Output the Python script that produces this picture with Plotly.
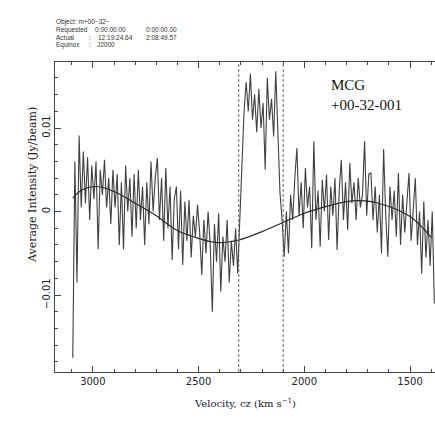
import numpy as np
import plotly.graph_objects as go

# Channel velocities (km/s), 10 km/s channels
velocity = np.arange(3095, 1384, -10)

# Average intensity (Jy/beam)
intensity = [
    # 3095 - 3005
    -0.0175, 0.0060, -0.0085, 0.0091, 0.0005, 0.0072, 0.0010, 0.0065, -0.0010, 0.0055,
    # 2995 - 2905
    0.0015, 0.0060, -0.0045, 0.0050, 0.0020, 0.0062, 0.0005, 0.0040, -0.0015, 0.0050,
    # 2895 - 2805
    0.0005, 0.0045, -0.0040, 0.0035, -0.0045, 0.0055, 0.0000, 0.0040, -0.0030, 0.0045,
    # 2795 - 2705
    -0.0020, 0.0050, -0.0010, 0.0030, -0.0040, 0.0035, -0.0015, 0.0060, 0.0000, 0.0040,
    # 2695 - 2605
    0.0064, -0.0010, 0.0040, -0.0035, 0.0052, -0.0020, 0.0030, -0.0058, 0.0015, 0.0030,
    # 2595 - 2505
    -0.0045, 0.0025, -0.0064, 0.0012, -0.0035, 0.0014, -0.0055, -0.0005, -0.0030, 0.0008,
    # 2495 - 2405
    -0.0025, -0.0076, -0.0010, -0.0050, 0.0000, -0.0040, -0.0120, -0.0015, -0.0060, -0.0002,
    # 2395 - 2315
    -0.0096, -0.0030, -0.0060, -0.0010, -0.0085, -0.0035, -0.0065, -0.0020, -0.0074,
    # 2305 - 2095 (line)
    -0.0010, 0.0060, 0.0120, 0.0155, 0.0120, 0.0165, 0.0110, 0.0140, 0.0095, 0.0147, 0.0100,
    0.0130, 0.0050, 0.0160, 0.0110, 0.0135, 0.0090, 0.0168, 0.0080, 0.0022, -0.0010, -0.0054,
    # 2085 - 1995
    0.0000, -0.0050, 0.0020, -0.0010, 0.0040, 0.0076, -0.0005, 0.0035, -0.0020, 0.0052,
    # 1985 - 1895
    0.0005, 0.0030, -0.0044, 0.0084, -0.0010, 0.0025, -0.0042, 0.0038, 0.0000, 0.0044,
    # 1885 - 1795
    -0.0034, 0.0030, -0.0005, 0.0040, -0.0046, 0.0025, 0.0062, -0.0010, 0.0035, -0.0022,
    # 1785 - 1695
    0.0058, 0.0010, 0.0035, -0.0010, 0.0040, 0.0005, 0.0020, 0.0084, -0.0005, 0.0045,
    # 1685 - 1595
    0.0046, -0.0010, 0.0030, -0.0025, 0.0020, -0.0050, 0.0075, -0.0005, -0.0054, 0.0030,
    # 1585 - 1495
    -0.0010, 0.0025, -0.0030, 0.0046, -0.0040, 0.0020, -0.0025, 0.0015, 0.0046, -0.0035,
    # 1485 - 1385
    0.0010, 0.0040, -0.0040, 0.0000, -0.0074, 0.0012, -0.0055, -0.0010, -0.0065, 0.0000, -0.0110,
]

# Baseline fit (smooth curve)
fit_velocity = [3095, 3050, 2980, 2900, 2800, 2700, 2605, 2500, 2415, 2310,
                2200, 2100, 2000, 1900, 1800, 1740, 1650, 1500, 1400]
fit_intensity = [0.0016, 0.0026, 0.0030, 0.0024, 0.0010, -0.0005, -0.0022, -0.0032, -0.0037, -0.0034,
                 -0.0024, -0.0013, -0.0002, 0.0006, 0.0012, 0.0013, 0.0010, -0.0006, -0.0031]

# Line window (km/s)
window = [2310, 2100]

x_ticks = [3000, 2500, 2000, 1500]
y_ticks = [-0.01, 0, 0.01]
y_tick_text = ["\u22120.01", "0", "0.01"]

# Header text: (y pixel, [(x pixel, text), ...])
header_rows = [
    (22.5, [(55, "Object: m+00\u221232\u2212")]),
    (30, [(55, "Requested"), (94, "0:00:00.00"), (145, "0:00:00.00")]),
    (37.5, [(55, "Actual"), (88, ":"), (97, "12:19:24.64"), (145, "2:08:49.57")]),
    (45, [(55, "Equinox"), (88, ":"), (96, "J2000")]),
]

fig = go.Figure()
fig.add_trace(go.Scatter(x=velocity, y=intensity, mode="lines",
                         line=dict(color="#404040", width=1.1), hoverinfo="skip"))
fig.add_trace(go.Scatter(x=fit_velocity, y=fit_intensity, mode="lines",
                         line=dict(color="#2a2a2a", width=1.2, shape="spline"), hoverinfo="skip"))

for v in window:
    fig.add_shape(type="line", xref="x", yref="paper", x0=v, x1=v, y0=0, y1=1,
                  line=dict(color="#666", width=1, dash="3px,2px"))

axis_font = dict(family="DejaVu Serif", size=10, color="#222")

fig.update_layout(
    width=435, height=428,
    margin=dict(l=55, r=0, t=62, b=56),
    paper_bgcolor="white", plot_bgcolor="white",
    showlegend=False,
    xaxis=dict(range=[3179, 1382], tickvals=x_ticks, ticks="inside", ticklen=6,
               tickcolor="#444", showline=True, linecolor="#444", linewidth=1,
               mirror="ticks", showgrid=False, zeroline=False,
               tickfont=dict(family="DejaVu Sans", size=10, color="#222"),
               minor=dict(dtick=100, ticks="inside", ticklen=3, tickcolor="#444")),
    yaxis=dict(range=[-0.0192, 0.0179], tickvals=y_ticks, ticktext=y_tick_text,
               ticks="inside", ticklen=6, tickcolor="#444", tickangle=-90,
               showline=True, linecolor="#444", linewidth=1, showgrid=False, zeroline=False,
               tickfont=dict(family="DejaVu Sans", size=10, color="#222"),
               minor=dict(dtick=0.002, ticks="inside", ticklen=3, tickcolor="#444")),
)

# axis titles
fig.add_annotation(text="Velocity, cz (km s<sup>\u22121</sup>)", xref="paper", yref="paper",
                   x=(245 - 55) / 380, y=(428 - 56 - 403) / 310, showarrow=False,
                   font=axis_font, xanchor="center", yanchor="middle")
fig.add_annotation(text="Average Intensity (Jy/beam)", xref="paper", yref="paper",
                   x=(32 - 55) / 380, y=(372 - 185) / 310, showarrow=False, textangle=-90,
                   font=dict(family="DejaVu Serif", size=11, color="#222"),
                   xanchor="center", yanchor="middle")

# object label
fig.add_annotation(text="MCG<br>+00-32-001", xref="paper", yref="paper",
                   x=(329 - 55) / 380, y=(372 - 75) / 310, showarrow=False, align="left",
                   font=dict(family="Liberation Serif", size=15, color="#111"),
                   xanchor="left", yanchor="top")

# header text
hdr_font = dict(family="Liberation Sans", size=6.5, color="#333")
for ypix, cells in header_rows:
    yp = (372 - ypix) / 310
    for xpix, txt in cells:
        fig.add_annotation(text=txt, xref="paper", yref="paper", x=(xpix - 55) / 380, y=yp,
                           showarrow=False, font=hdr_font, xanchor="left", yanchor="middle",
                           borderpad=0)

fig.write_html("out.html")
